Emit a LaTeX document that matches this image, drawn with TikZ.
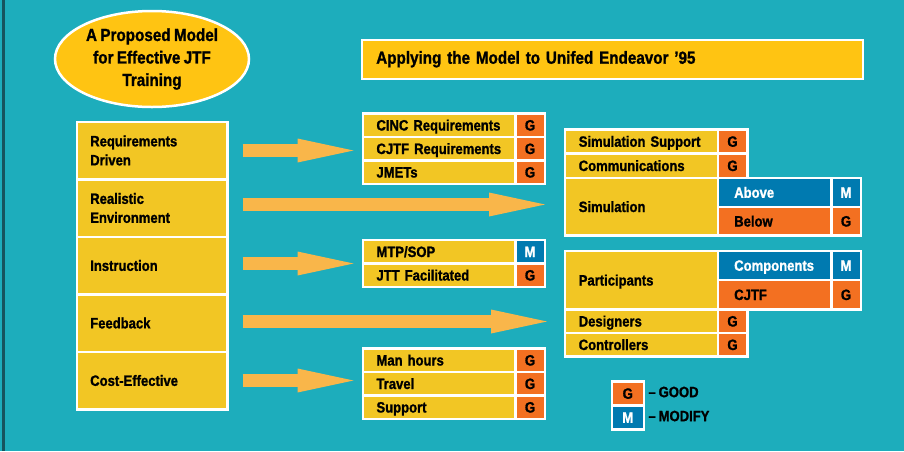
\documentclass[tikz,border=0pt]{standalone}
\usepackage{fontspec}
\setmainfont{Liberation Sans}[FakeStretch=0.87, WordSpace=0.8, BoldFeatures={FakeBold=1.2}]
\usepackage{tikz}
\usetikzlibrary{shapes.geometric, arrows.meta, calc}
\definecolor{sfondo}{RGB}{29,173,188}
\definecolor{bordo}{RGB}{22,84,94}
\definecolor{giallo}{RGB}{242,198,36}
\definecolor{giallino}{RGB}{255,196,18}
\definecolor{arancio}{RGB}{243,112,33}
\definecolor{blu}{RGB}{0,122,176}
\definecolor{freccia}{RGB}{249,182,74}
\tikzstyle{pillar} = [rectangle, anchor=north west, fill=giallo, draw=white, line width=2.5pt, minimum width=150.5pt, minimum height=57.5pt, text width=123.5pt, inner xsep=13.5pt, align=left, font=\fontsize{15}{19}\selectfont\bfseries]
\tikzstyle{item} = [rectangle, anchor=north west, fill=giallo, draw=white, line width=2.5pt, minimum width=152.5pt, minimum height=23.5pt, text width=125pt, inner xsep=13.75pt, inner ysep=0pt, text height=11pt, text depth=0pt, align=left, font=\fontsize{15}{19}\selectfont\bfseries]
\tikzstyle{feature} = [item, minimum width=153pt, text width=125pt, inner xsep=14pt]
\tikzstyle{sub} = [item, minimum width=113.5pt, text width=80.5pt, inner xsep=16.5pt]
\tikzstyle{good} = [rectangle, anchor=north west, fill=arancio, draw=white, line width=2.5pt, minimum width=29.5pt, minimum height=23.5pt, inner sep=0pt, text height=11pt, text depth=0pt, font=\fontsize{15}{19}\selectfont\bfseries]
\tikzstyle{modify} = [good, fill=blu, text=white]
\tikzstyle{bigarrow} = [draw=freccia, line width=12.5pt, -{Triangle[length=56pt, width=24pt, line width=0pt]}]

\begin{document}
\begin{tikzpicture}[x=1pt, y=-1pt]
\fill[sfondo] (0,0) rectangle (904,451);
\fill[bordo] (2.3,0) rectangle (5,451);
\useasboundingbox (0,0) rectangle (904,451);

\node (modello) at (152,59) [ellipse, fill=giallino, draw=white, line width=2.5pt, minimum width=194pt, minimum height=96pt, inner sep=0pt, align=center, font=\fontsize{17.5}{22.5}\selectfont\bfseries] {A Proposed Model\\for Effective JTF\\Training};
\node (titolo) at (360.5,38.5) [rectangle, anchor=north west, fill=giallino, draw=white, line width=2.5pt, minimum width=501pt, minimum height=39pt, text width=472pt, inner xsep=14.5pt, align=left, font=\fontsize{17.5}{22}\selectfont\bfseries] {Applying the Model to Unifed Endeavor '95};

\node (req) at (75.5,120.5) [pillar] {Requirements\\Driven};
\node (real) at (75.5,178) [pillar] {Realistic\\Environment};
\node (instr) at (75.5,235.5) [pillar] {Instruction};
\node (feed) at (75.5,293) [pillar] {Feedback};
\node (cost) at (75.5,350.5) [pillar] {Cost-Effective};

\node (cinc) at (361.5,112) [item] {CINC Requirements};
\node (cincG) at (514,112) [good] {G};
\node (cjtf) at (361.5,135.5) [item] {CJTF Requirements};
\node (cjtfG) at (514,135.5) [good] {G};
\node (jmet) at (361.5,159) [item] {JMETs};
\node (jmetG) at (514,159) [good] {G};

\node (mtp) at (361.5,238.5) [item] {MTP/SOP};
\node (mtpM) at (514,238.5) [modify] {M};
\node (jtt) at (361.5,262) [item] {JTT Facilitated};
\node (jttG) at (514,262) [good] {G};

\node (man) at (361.5,347) [item] {Man hours};
\node (manG) at (514,347) [good] {G};
\node (trav) at (361.5,370.5) [item] {Travel};
\node (travG) at (514,370.5) [good] {G};
\node (supp) at (361.5,394) [item] {Support};
\node (suppG) at (514,394) [good] {G};

\node (simsup) at (563.5,128) [feature, minimum height=24pt] {Simulation Support};
\node (simsupG) at (716.5,128) [good, minimum height=24pt] {G};
\node (comm) at (563.5,152) [feature, minimum height=24.5pt] {Communications};
\node (commG) at (716.5,152) [good, minimum height=24.5pt] {G};
\node (sim) at (563.5,176.5) [feature, minimum height=57.5pt] {Simulation};
\node (above) at (716.5,176.5) [sub, fill=blu, text=white, minimum height=29pt] {Above};
\node (aboveM) at (830,176.5) [modify, minimum height=29pt] {M};
\node (below) at (716.5,205.5) [sub, fill=arancio, minimum height=28.5pt] {Below};
\node (belowG) at (830,205.5) [good, minimum height=28.5pt] {G};

\node (part) at (563.5,249.5) [feature, minimum height=58.5pt] {Participants};
\node (comp) at (716.5,249.5) [sub, fill=blu, text=white, minimum height=29pt] {Components};
\node (compM) at (830,249.5) [modify, minimum height=29pt] {M};
\node (cjtfp) at (716.5,278.5) [sub, fill=arancio, minimum height=29.5pt] {CJTF};
\node (cjtfpG) at (830,278.5) [good, minimum height=29.5pt] {G};
\node (des) at (563.5,308) [feature] {Designers};
\node (desG) at (716.5,308) [good] {G};
\node (contr) at (563.5,331.5) [feature] {Controllers};
\node (contrG) at (716.5,331.5) [good] {G};

\node (legG) at (610.5,380) [good, minimum width=32pt, minimum height=24pt] {G};
\node (legM) at (610.5,404) [modify, minimum width=32pt, minimum height=24pt] {M};
\node[anchor=west, font=\fontsize{15}{19}\selectfont\bfseries] (legGtxt) at (645,392) {-- GOOD};
\node[anchor=west, font=\fontsize{15}{19}\selectfont\bfseries] (legMtxt) at (645,416) {-- MODIFY};

\draw[bigarrow, shorten <=14pt, shorten >=8pt] (req.east) -- (req.east -| cinc.west);
\draw[bigarrow, shorten <=14pt, shorten >=18.5pt] ($(real.east)+(0,-3.5)$) -- ($(real.east -| sim.west)+(0,-3.5)$);
\draw[bigarrow, shorten <=14pt, shorten >=8pt] ($(instr.east)+(0,-2)$) -- ($(instr.east -| mtp.west)+(0,-2)$);
\draw[bigarrow, shorten <=14pt, shorten >=16.5pt] ($(feed.east)+(0,-1.5)$) -- ($(feed.east -| part.west)+(0,-1.5)$);
\draw[bigarrow, shorten <=14pt, shorten >=8pt] (cost.east) -- (cost.east -| man.west);
\end{tikzpicture}
\end{document}
